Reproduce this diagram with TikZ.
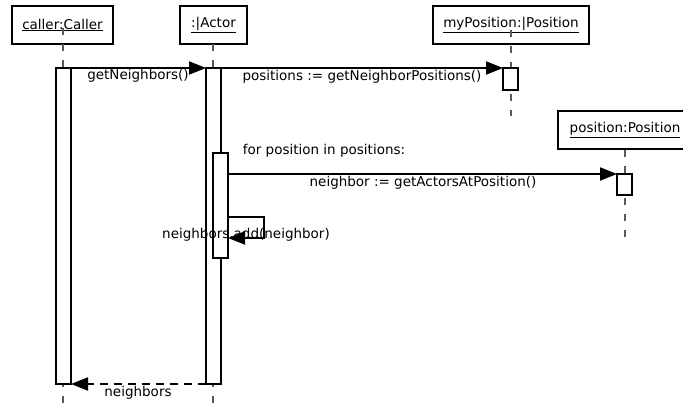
\documentclass[tikz,border=0pt]{standalone}
\usepackage{fontspec}
\setmainfont{DejaVu Sans}
\usetikzlibrary{arrows.meta}
\tikzset{
  obj/.style={draw=black, line width=2.2pt, fill=white, inner sep=0pt, minimum height=38pt, font=\fontsize{13.5}{15}\selectfont},
  lifeline/.style={draw=black!65, line width=1.5pt, dash pattern=on 7pt off 9pt},
  act/.style={draw=black, line width=2.2pt, fill=white},
  msg/.style={draw=black, line width=2pt, -{Triangle[length=17pt,width=13pt]}},
  ret/.style={draw=black, line width=2pt, dash pattern=on 8pt off 6pt, -{Triangle[length=17pt,width=13pt]}},
  lbl/.style={font=\fontsize{13.5}{15}\selectfont, inner sep=0pt, anchor=base},
}
\begin{document}
\begin{tikzpicture}[x=1pt,y=-1pt]
\clip (0,0) rectangle (683,407);
\fill[white] (0,0) rectangle (683,407);
% object boxes
\node[obj, minimum width=101pt] (caller) at (62.5,25) {\underline{caller:Caller}};
\node[obj, minimum width=67pt] (actor) at (213.5,25) {\underline{:|Actor}};
\node[obj, minimum width=156pt] (mypos) at (511,25) {\underline{myPosition:|Position}};
\node[obj, minimum width=134pt] (pos) at (625,130) {\underline{position:Position}};
% lifelines
\draw[lifeline] (63,28) -- (63,407);
\draw[lifeline] (213,44) -- (213,407);
\draw[lifeline] (511,30) -- (511,116);
\draw[lifeline] (625,150) -- (625,238);
% activations
\draw[act] (56,68) rectangle (71,384);
\draw[act] (206,68) rectangle (221,384);
\draw[act] (213,153) rectangle (228,258);
\draw[act] (503,68) rectangle (518,90);
\draw[act] (617,174) rectangle (632,195);
\coordinate (cA) at (56,68);
\coordinate (aA) at (206,68);
\coordinate (aB) at (221,68);
\coordinate (mA) at (503,68);
\coordinate (nA) at (228,174);
\coordinate (pA) at (617,174);
\coordinate (s1) at (228,217);
\coordinate (s2) at (264,217);
\coordinate (s3) at (264,238);
\coordinate (s4) at (228,238);
\coordinate (rA) at (206,384);
\coordinate (rB) at (71,384);
% messages
\draw[msg] (cA) -- (aA);
\draw[msg] (aB) -- (mA);
\draw[msg] (nA) -- (pA);
\draw[msg] (s1) -- (s2) -- (s3) -- (s4);
\draw[ret] (rA) -- (rB);
% labels
\node[lbl] (l1) at (138,79) {getNeighbors()};
\node[lbl] (l2) at (362,80) {positions := getNeighborPositions()};
\node[lbl] (l3) at (324,154) {for position in positions:};
\node[lbl] (l4) at (423,186) {neighbor := getActorsAtPosition()};
\node[lbl] (l5) at (246,238) {neighbors.add(neighbor)};
\node[lbl] (l6) at (138,396) {neighbors};
\end{tikzpicture}
\end{document}
